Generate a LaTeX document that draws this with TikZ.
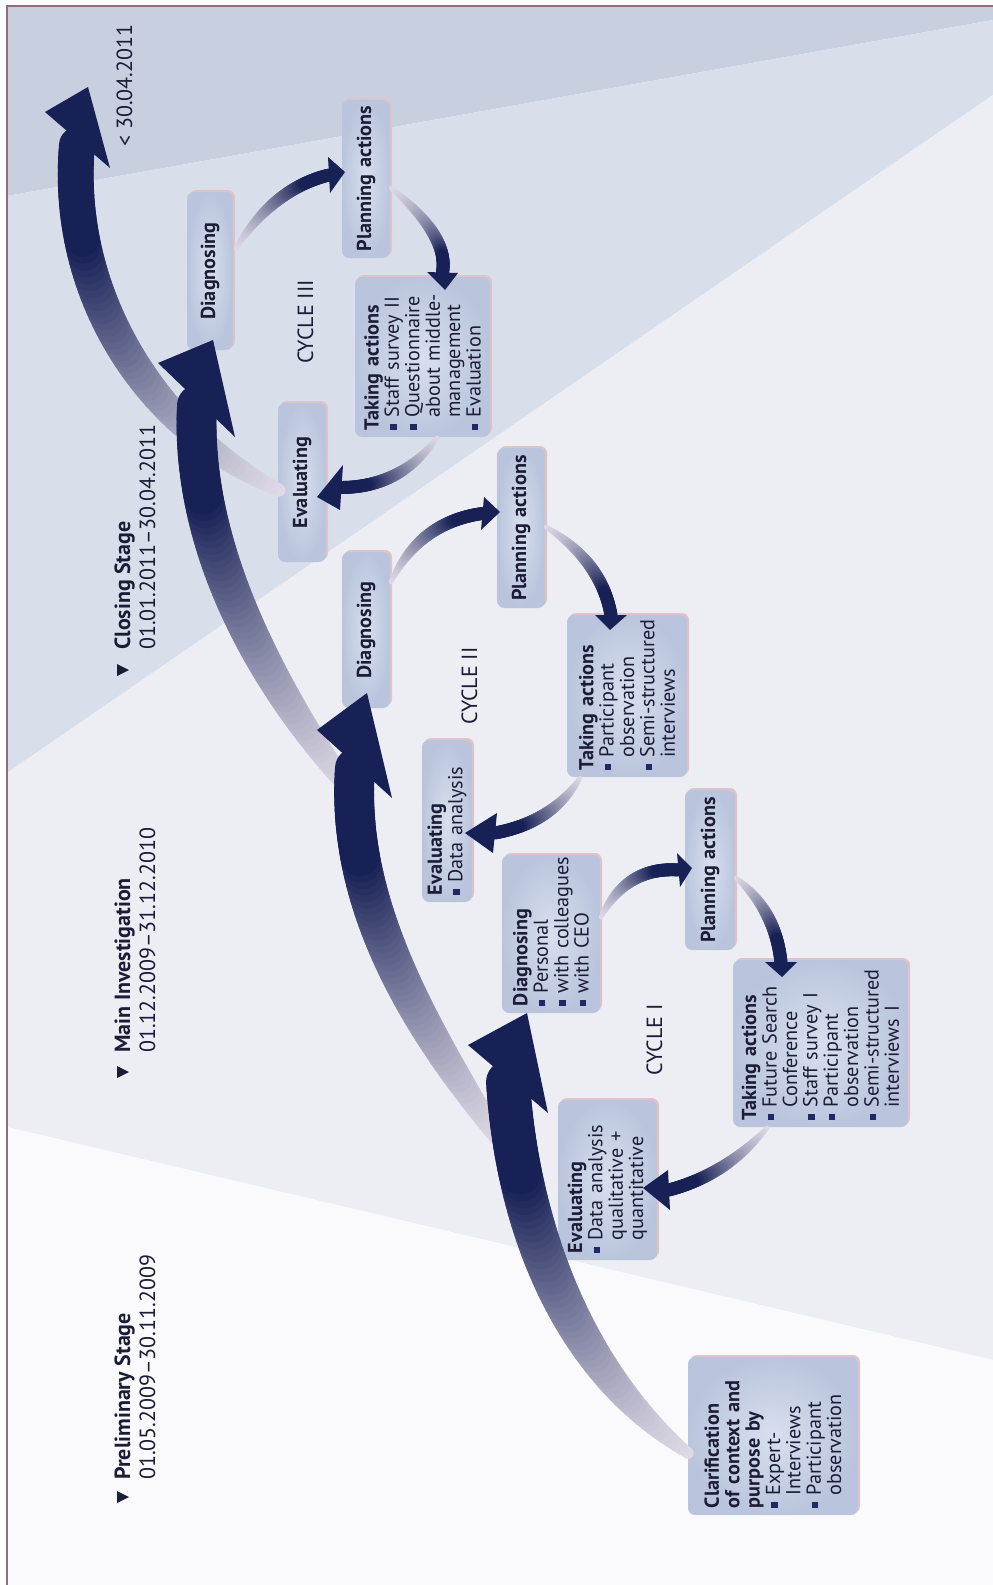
\documentclass[tikz,border=0pt]{standalone}
\usepackage{fontspec}
\setmainfont{PT Sans}
\definecolor{navyc}{HTML}{182156}
\definecolor{palec}{HTML}{DEDAE6}
\definecolor{bgA}{HTML}{C8D0E0}
\definecolor{bgB}{HTML}{D9DFEA}
\definecolor{bgC}{HTML}{EDEEF3}
\definecolor{bgD}{HTML}{FAFAFC}
\definecolor{framec}{HTML}{8E6F7A}
\definecolor{boxin}{HTML}{D8DFEE}
\definecolor{boxout}{HTML}{BAC5DD}
\definecolor{shadowc}{HTML}{DFC3C8}
\definecolor{txtc}{HTML}{1B1C36}
\definecolor{bulc}{HTML}{1E2A66}
\newcommand\blt{\makebox[0.62em][l]{\textcolor{bulc}{\rule[0.12em]{0.32em}{0.32em}}}}
\newcommand\ind{\hspace*{0.62em}}
\def\getxy#1,#2\endxy{\def\gx{#1}\def\gy{#2}}
\newcommand\gradarrow[6]{%
 \getxy#1\endxy\let\xA\gx\let\yA\gy
 \getxy#2\endxy\let\xB\gx\let\yB\gy
 \getxy#3\endxy\let\xC\gx\let\yC\gy
 \getxy#4\endxy\let\xD\gx\let\yD\gy
 \foreach \gi in {0,...,59}{%
  \pgfmathsetmacro\gta{\gi/60}%
  \pgfmathsetmacro\gtb{(\gi+1)/60}%
  \pgfmathsetmacro\gsa{1-\gta}%
  \pgfmathsetmacro\gsb{1-\gtb}%
  \pgfmathsetmacro\gxa{\gsa*\gsa*\gsa*\xA+3*\gsa*\gsa*\gta*\xB+3*\gsa*\gta*\gta*\xC+\gta*\gta*\gta*\xD}%
  \pgfmathsetmacro\gya{\gsa*\gsa*\gsa*\yA+3*\gsa*\gsa*\gta*\yB+3*\gsa*\gta*\gta*\yC+\gta*\gta*\gta*\yD}%
  \pgfmathsetmacro\gxb{\gsb*\gsb*\gsb*\xA+3*\gsb*\gsb*\gtb*\xB+3*\gsb*\gtb*\gtb*\xC+\gtb*\gtb*\gtb*\xD}%
  \pgfmathsetmacro\gyb{\gsb*\gsb*\gsb*\yA+3*\gsb*\gsb*\gtb*\yB+3*\gsb*\gtb*\gtb*\yC+\gtb*\gtb*\gtb*\yD}%
  \pgfmathsetmacro\glw{#5+(#6-#5)*(1-\gsb*\gsb*\gsb)}%
  \pgfmathsetmacro\gmp{min(100,100*(\gtb/0.8)^1.3)}%
  \draw[line width=\glw*0.5669pt, line cap=round, color=navyc!\gmp!palec] (\gxa,\gya) -- (\gxb,\gyb);
 }}
\newcommand\bx[7]{%
  \fill[shadowc, rounded corners=4pt] ({#2+2},{#4-2}) rectangle ({#3+2},{#5-2});
  \node[boxs, align=#6, minimum width={(#5-#4)*0.02cm}, minimum height={(#3-#2)*0.02cm}, text width={(#5-#4-14)*0.02cm}] (#1) at ({(#2+#3)/2},{(#4+#5)/2}) {#7};}
\tikzset{
 boxs/.style={rotate=90, rounded corners=4pt, inner color=boxin, outer color=boxout, inner sep=0pt, font=\fontsize{11.5}{11.6}\selectfont, text=txtc, execute at begin node={\hyphenpenalty=10000 \exhyphenpenalty=10000 }},
 stageb/.style={rotate=90, anchor=base west, inner sep=0pt, font=\fontsize{12.5}{15}\selectfont\bfseries, text=txtc},
 staged/.style={rotate=90, anchor=base west, inner sep=0pt, font=\fontsize{12.5}{15}\selectfont, text=txtc},
 cyc/.style={rotate=90, anchor=base, inner sep=0pt, font=\fontsize{12.5}{15}\selectfont, text=txtc},
 headf/.style={fill=navyc}
}
\begin{document}
\begin{tikzpicture}[x=0.02cm,y=-0.02cm]
\useasboundingbox (0,0) rectangle (993,1585);
% background
\fill[white] (0,0) rectangle (993,1585);
\fill[bgA] (7,6) -- (993,6) -- (993,20) -- (7,196) -- cycle;
\fill[bgB] (7,196) -- (993,20) -- (993,95) -- (7,773) -- cycle;
\fill[bgC] (7,773) -- (993,95) -- (993,1360) -- (7,1127) -- cycle;
\fill[bgD] (7,1127) -- (993,1360) -- (993,1585) -- (7,1585) -- cycle;
\draw[framec, line width=0.9pt] (993,6) -- (7,6) -- (7,1585);
% boxes
\bx{clar}{688}{858}{1357}{1515}{left}{\bfseries Clarification\\of~context~and\\purpose~by\\\mdseries\blt Expert-\\\ind Interviews\\\blt Participant\\\ind observation}
\bx{evalA}{558}{657}{1100}{1260}{left}{\bfseries Evaluating\\\mdseries\blt Data~analysis\\\ind qualitative~+\\\ind quantitative}
\bx{diagA}{502}{600}{855}{1013}{left}{\bfseries Diagnosing\\\mdseries\blt Personal\\\blt \mbox{with colleagues}\\\blt with~CEO}
\bx{planA}{685}{735}{790}{950}{center}{\bfseries Planning~actions}
\bx{takeA}{733}{908}{960}{1127}{left}{\bfseries Taking~actions\\\mdseries\blt Future~Search\\\ind Conference\\\blt Staff~survey~I\\\blt Participant\\\ind observation\\\blt \mbox{Semi-structured}\\\ind interviews~I}
\bx{evalB}{422}{472}{740}{902}{left}{\bfseries Evaluating\\\mdseries\blt Data~analysis}
\bx{diagB}{342}{390}{552}{708}{center}{\bfseries Diagnosing}
\bx{planB}{497}{545}{448}{608}{center}{\bfseries Planning~actions}
\bx{takeB}{567}{687}{615}{777}{left}{\bfseries Taking~actions\\\mdseries\blt Participant\\\ind observation\\\blt \mbox{Semi-structured}\\\ind interviews}
\bx{evalC}{278}{326}{403}{562}{center}{\bfseries Evaluating}
\bx{diagC}{187}{233}{192}{350}{center}{\bfseries Diagnosing}
\bx{planC}{342}{390}{100}{258}{center}{\bfseries Planning~actions}
\bx{takeC}{355}{490}{277}{437}{left}{\bfseries Taking~actions\\\mdseries\blt Staff~survey~II\\\blt Questionnaire\\\ind about~middle-\\\ind management\\\blt Evaluation}
% big arrows (4,3,2,1)
\gradarrow{279,490}{150,430}{64,293}{77,145}{12}{36}
\fill[headf] (45,112) -- (88,87) -- (110,168) -- cycle;
\gradarrow{350,790}{263,680}{190,544}{197,405}{16}{40}
\fill[headf] (158,363) -- (213,340) -- (235,437) -- cycle;
\gradarrow{500,1140}{423,1031}{345,907}{355,768}{16}{40}
\fill[headf] (317,730) -- (367,693) -- (392,798) -- cycle;
\gradarrow{688,1453}{569,1368}{517,1221}{508,1082}{10}{44}
\fill[headf] (468,1045) -- (527,1013) -- (548,1113) -- cycle;
% cycle III
\gradarrow{236,248}{261,208.3}{292,184}{329,175}{4}{13}
\fill[headf] (328,157) -- (345,172) -- (330,193) -- cycle;
\gradarrow{391,188}{429.8,219.8}{447,248}{442.5,272.5}{4}{13}
\fill[headf] (427,272) -- (445,290) -- (458,273) -- cycle;
\gradarrow{437,438}{412.8,470.8}{381,487.3}{341.5,487.5}{4}{13}
\fill[headf] (343,465) -- (317,497) -- (340,510) -- cycle;
% cycle II
\gradarrow{391,582}{409.8,542.2}{440.3,519.3}{482.5,513.5}{4}{13}
\fill[headf] (484,497) -- (500,512) -- (481,530) -- cycle;
\gradarrow{546,527}{583,549.7}{604.7,579}{611,615}{4}{13}
\fill[headf] (595,615) -- (610,630) -- (627,615) -- cycle;
\gradarrow{580,778}{561.7,807.7}{533.3,826}{495,833}{4}{13}
\fill[headf] (497,813) -- (465,833) -- (493,853) -- cycle;
% cycle I
\gradarrow{601,917}{617.8,883.3}{643.7,867.7}{678.5,870}{4}{13}
\fill[headf] (677,853) -- (692,868) -- (680,887) -- cycle;
\gradarrow{736,878}{762.3,899.3}{777.3,927.3}{781,962}{4}{13}
\fill[headf] (765,962) -- (782,977) -- (797,962) -- cycle;
\gradarrow{767,1128}{739.7,1159.3}{707,1180}{669,1190}{4}{13}
\fill[headf] (668,1170) -- (643,1188) -- (670,1210) -- cycle;
% stage labels
\fill[txtc] (117,1491) -- (117,1503) -- (129,1497) -- cycle;
\node[stageb] (prelim) at (130,1480) {Preliminary Stage};
\node[staged] (prelimd) at (155,1480) {01.05.2009–30.11.2009};
\fill[txtc] (117,1066) -- (117,1078) -- (129,1072) -- cycle;
\node[stageb] (mainI) at (130,1053) {Main Investigation};
\node[staged] (mainId) at (155,1053) {01.12.2009–31.12.2010};
\fill[txtc] (117,664) -- (117,676) -- (129,670) -- cycle;
\node[stageb] (closing) at (130,650) {Closing Stage};
\node[staged] (closingd) at (155,650) {01.01.2011–30.04.2011};
\node[staged] (enddate) at (132,147) {< 30.04.2011};
% cycle labels
\node[cyc] (cycI) at (662,1040) {CYCLE I};
\node[cyc] (cycII) at (477,686) {CYCLE II};
\node[cyc] (cycIII) at (313,322) {CYCLE III};
\end{tikzpicture}
\end{document}
